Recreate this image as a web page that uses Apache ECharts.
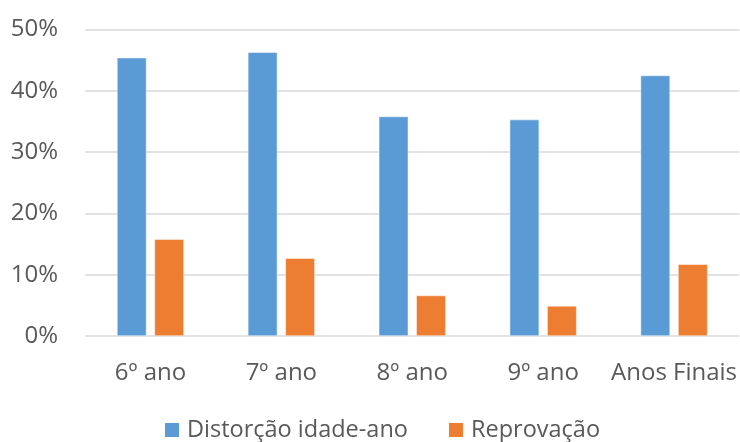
<!DOCTYPE html>
<html>
<head>
<meta charset="utf-8">
<script src="https://cdn.jsdelivr.net/npm/echarts@6/dist/echarts.min.js"></script>
<style>
  html, body { margin: 0; padding: 0; background: #fff; }
  #chart { width: 740px; height: 442px; }
</style>
</head>
<body>
<div id="chart"></div>
<script>
const categories = ['6º ano', '7º ano', '8º ano', '9º ano', 'Anos Finais']
const distorcao = [45.4, 46.3, 35.8, 35.3, 42.5]
const reprovacao = [15.8, 12.7, 6.6, 4.9, 11.7]
const yTicks = [0, 10, 20, 30, 40, 50]

const textColor = '#595959'
const font = '"Open Sans", sans-serif'

const chart = echarts.init(document.getElementById('chart'))

chart.setOption({
  animation: false,
  grid: { left: 85, right: 0, top: 29.5, bottom: 106 },
  legend: {
    data: ['Distorção idade-ano', 'Reprovação'],
    left: 158,
    top: 413,
    itemWidth: 16,
    itemHeight: 16,
    itemGap: 39,
    icon: 'rect',
    textStyle: { color: textColor, fontSize: 23.5, fontFamily: font, padding: [0, 0, 0, 2] },
  },
  xAxis: {
    type: 'category',
    data: categories,
    axisLine: { show: false },
    axisTick: { show: false },
    axisLabel: { color: textColor, fontSize: 24, fontFamily: font, margin: 25, interval: 0 },
  },
  yAxis: {
    type: 'value',
    min: yTicks[0],
    max: yTicks[yTicks.length - 1],
    interval: 10,
    axisLabel: {
      color: textColor,
      fontSize: 24,
      fontFamily: font,
      margin: 27,
      formatter: (v) => v + '%',
    },
    splitLine: { lineStyle: { color: '#D9D9D9', width: 1.5 } },
  },
  series: [
    {
      name: 'Distorção idade-ano',
      type: 'bar',
      data: distorcao,
      barWidth: 29.5,
      barGap: '27%',
      itemStyle: { color: '#5B9BD5', borderColor: '#fff', borderWidth: 0.5 },
    },
    {
      name: 'Reprovação',
      type: 'bar',
      data: reprovacao,
      barWidth: 29.5,
      itemStyle: { color: '#ED7D31', borderColor: '#fff', borderWidth: 0.5 },
    },
  ],
})
</script>
</body>
</html>
